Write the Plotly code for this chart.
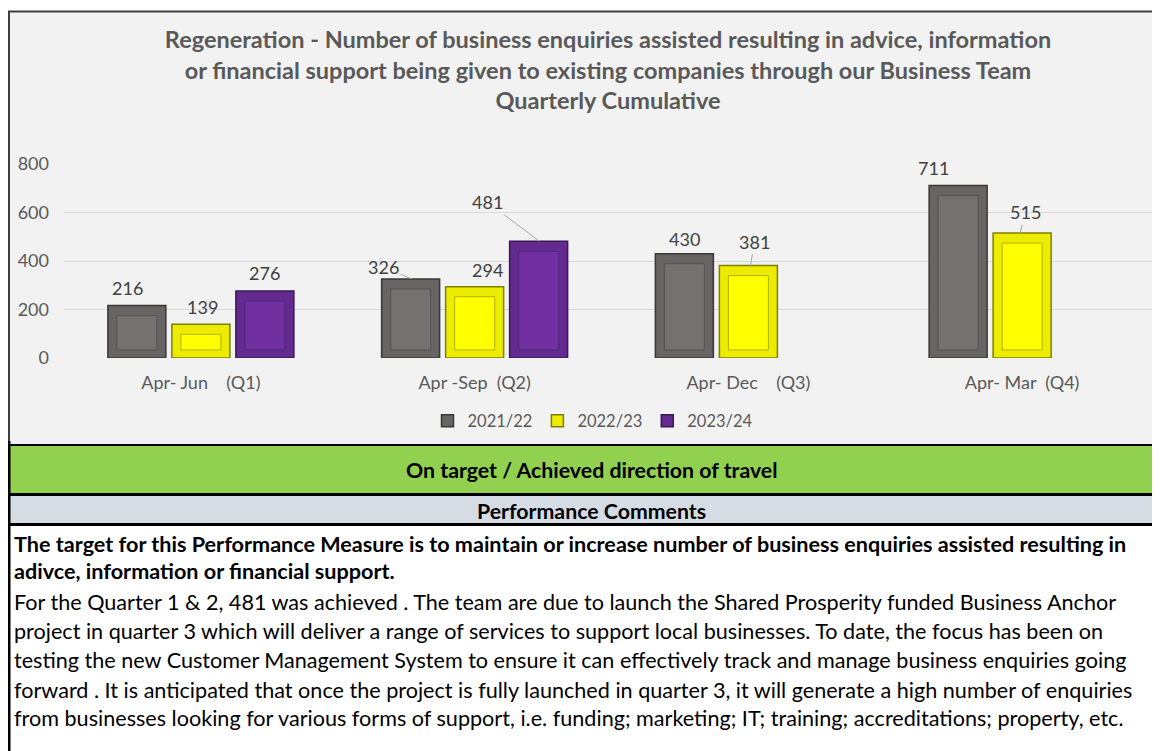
import plotly.graph_objects as go

# ---------------- data ----------------
categories = [
    "Apr-\u00a0Jun\u00a0\u00a0\u00a0\u00a0(Q1)",
    "Apr\u00a0-Sep\u00a0\u00a0(Q2)",
    "Apr-\u00a0Dec\u00a0\u00a0\u00a0\u00a0(Q3)",
    "Apr-\u00a0Mar\u00a0\u00a0(Q4)",
]
series_names = ["2021/22", "2022/23", "2023/24"]
values_2021_22 = [216, 326, 430, 711]
values_2022_23 = [139, 294, 381, 515]
values_2023_24 = [276, 481, None, None]
y_ticks = [0, 200, 400, 600, 800]

title_lines = [
    "Regeneration - Number of business enquiries assisted resulting in advice, information",
    "or financial support being given to existing companies through our Business Team",
    "Quarterly Cumulative",
]
status_text = "On target / Achieved direction of travel"
header_text = "Performance Comments"
body_bold_lines = [
    "The target for this Performance Measure is to maintain or increase number of business enquiries assisted resulting in",
    "adivce, information or financial support.",
]
body_lines = [
    "For the Quarter 1 & 2, 481 was achieved . The team are due to launch the Shared Prosperity funded Business Anchor",
    "project in quarter 3 which will deliver a range of services to support local businesses. To date, the focus has been on",
    "testing the new Customer Management System to ensure it can effectively track and manage business enquiries going",
    "forward . It is anticipated that once the project is fully launched in quarter 3, it will generate a high number of enquiries",
    "from businesses looking for various forms of support, i.e. funding; marketing; IT; training; accreditations; property, etc.",
]

# ---------------- layout / style ----------------
PAGE_W, PAGE_H = 1160, 751
PAGE_MARGIN = 8          # default body margin of the html page
W, H = PAGE_W - PAGE_MARGIN, PAGE_H - PAGE_MARGIN
FONT = "Lato"
PLOT_L, PLOT_R, PLOT_T, PLOT_B = 64, 1159, 164, 358
band_px = (PLOT_R - PLOT_L) / len(categories)
bar_px, gap_px = 58, 6
bar_w = bar_px / band_px
gap_w = gap_px / band_px
group_w = 3 * bar_w + 2 * gap_w
offsets = [-group_w / 2 + i * (bar_w + gap_w) for i in range(3)]
units_per_px = (y_ticks[-1] - y_ticks[0]) / (PLOT_B - PLOT_T)

fills = ["#767171", "#ffff00", "#7030a0"]
bevel_fills = ["#686464", "#ecec00", "#632a8f"]
edge_cols = ["#3a3737", "#7f7f00", "#3a1957"]
inner_edge = ["#555151", "#b0b000", "#50247a"]

all_values = [values_2021_22, values_2022_23, values_2023_24]


def px_x(x):
    return (x - PAGE_MARGIN) / W


def px_y(y):
    return 1 - (y - PAGE_MARGIN) / H


fig = go.Figure()

# outer (bevel) bars
for s, vals in enumerate(all_values):
    fig.add_trace(go.Bar(
        x=categories, y=vals, name=series_names[s],
        offset=offsets[s], width=bar_w,
        marker=dict(color=bevel_fills[s], line=dict(color=edge_cols[s], width=1.5)),
        showlegend=True, hoverinfo="skip",
    ))

# inner face of bars (bevel effect)
inset_x = 9 / band_px
inset_bottom = 8 * units_per_px
inset_top = 10 * units_per_px
for s, vals in enumerate(all_values):
    inner_vals = [None if v is None else v - inset_bottom - inset_top for v in vals]
    fig.add_trace(go.Bar(
        x=categories, y=inner_vals, base=inset_bottom,
        offset=offsets[s] + inset_x, width=bar_w - 2 * inset_x,
        marker=dict(color=fills[s], line=dict(color=inner_edge[s], width=1)),
        showlegend=False, hoverinfo="skip",
    ))

# data labels: (dx, dy) text centre offset from bar top centre in px; optional leader tip
label_pos = {
    (0, 0): (-9, -18, None), (1, 0): (2, -17, None), (2, 0): (0, -18, None),
    (0, 1): (-27, -12, (1, 0)), (1, 1): (13, -17, None), (2, 1): (-51, -39, (1, 0)),
    (0, 2): (0, -15, None), (1, 2): (6, -24, (2, 1)),
    (0, 3): (-25, -18, None), (1, 3): (3, -21, (-2, 0)),
}
annotations = []
for s, vals in enumerate(all_values):
    centre_px = (offsets[s] + bar_w / 2) * band_px
    for c, v in enumerate(vals):
        if v is None:
            continue
        dx, dy, tip = label_pos[(s, c)]
        base = dict(x=categories[c], y=v, xref="x", yref="y", text=str(v),
                    font=dict(family=FONT, size=18, color="#404040"),
                    xanchor="center", yanchor="middle")
        if tip is None:
            base.update(showarrow=False, xshift=centre_px + dx, yshift=-dy)
        else:
            tdx, tdy = tip
            base.update(showarrow=True, xshift=centre_px + tdx, yshift=-tdy,
                        ax=dx - tdx, ay=dy - tdy, axref="pixel", ayref="pixel",
                        arrowhead=0, arrowwidth=1, arrowcolor="#a6a6a6", standoff=0)
        annotations.append(base)

# status band and comments
annotations.append(dict(x=px_x(592), y=px_y(470), xref="paper", yref="paper",
                        text="<b>" + status_text + "</b>", showarrow=False,
                        font=dict(family=FONT, size=21.3, color="#000000"),
                        xanchor="center", yanchor="middle"))
annotations.append(dict(x=px_x(591), y=px_y(511), xref="paper", yref="paper",
                        text="<b>" + header_text + "</b>", showarrow=False,
                        font=dict(family=FONT, size=21.3, color="#000000"),
                        xanchor="center", yanchor="middle"))
body_y = [544, 571, 602, 631, 660, 690, 718]
all_body = ["<b>" + t + "</b>" for t in body_bold_lines] + body_lines
for t, yy in zip(all_body, body_y):
    annotations.append(dict(x=px_x(12), y=px_y(yy), xref="paper", yref="paper",
                            text=t, showarrow=False,
                            font=dict(family=FONT, size=21.6, color="#000000"),
                            xanchor="left", yanchor="middle"))

shapes = [
    # chart background
    dict(type="rect", xref="paper", yref="paper", x0=px_x(8), x1=px_x(1160),
         y0=px_y(444), y1=px_y(11), fillcolor="#f2f2f2", line=dict(width=0), layer="below"),
    dict(type="line", xref="paper", yref="paper", x0=px_x(8), x1=px_x(1160),
         y0=px_y(11.5), y1=px_y(11.5), line=dict(color="#3f3f3f", width=2), layer="below"),
    dict(type="line", xref="paper", yref="paper", x0=px_x(9), x1=px_x(9),
         y0=px_y(444), y1=px_y(11), line=dict(color="#3f3f3f", width=2), layer="below"),
    # green status band
    dict(type="rect", xref="paper", yref="paper", x0=px_x(8), x1=px_x(1160),
         y0=px_y(493), y1=px_y(446), fillcolor="#92d050", line=dict(width=0)),
    # comments header
    dict(type="rect", xref="paper", yref="paper", x0=px_x(8), x1=px_x(1160),
         y0=px_y(523), y1=px_y(496), fillcolor="#d6dce4", line=dict(width=0)),
    dict(type="line", xref="paper", yref="paper", x0=px_x(8), x1=px_x(1160),
         y0=px_y(445), y1=px_y(445), line=dict(color="#000000", width=2)),
    dict(type="line", xref="paper", yref="paper", x0=px_x(8), x1=px_x(1160),
         y0=px_y(494.5), y1=px_y(494.5), line=dict(color="#000000", width=3)),
    dict(type="line", xref="paper", yref="paper", x0=px_x(8), x1=px_x(1160),
         y0=px_y(524.5), y1=px_y(524.5), line=dict(color="#000000", width=3)),
    dict(type="line", xref="paper", yref="paper", x0=px_x(9), x1=px_x(9),
         y0=px_y(751), y1=px_y(441), line=dict(color="#000000", width=3)),
]

fig.update_layout(
    width=W, height=H,
    margin=dict(l=0, r=0, t=0, b=0),
    paper_bgcolor="#ffffff",
    plot_bgcolor="rgba(0,0,0,0)",
    barmode="overlay",
    font=dict(family=FONT, color="#595959"),
    title=dict(
        text="<b>" + "<br>".join(title_lines) + "</b>",
        x=px_x(608), xanchor="center", xref="paper",
        y=px_y(48), yanchor="middle", yref="paper",
        font=dict(family=FONT, size=23.5, color="#595959"),
    ),
    xaxis=dict(domain=[px_x(PLOT_L), px_x(PLOT_R)], showgrid=False, zeroline=False,
               showline=False, ticks="", tickfont=dict(family=FONT, size=18, color="#595959"),
               ticklabelstandoff=12, automargin=False, fixedrange=True),
    yaxis=dict(domain=[px_y(PLOT_B), px_y(PLOT_T)], range=[y_ticks[0], y_ticks[-1]],
               tickvals=y_ticks, showgrid=True, gridcolor="#d9d9d9", gridwidth=1,
               zeroline=False, showline=False, ticks="",
               tickfont=dict(family=FONT, size=18, color="#595959"),
               ticklabelstandoff=14, automargin=False, fixedrange=True),
    legend=dict(orientation="h", x=px_x(593), xanchor="center", y=px_y(421), yanchor="middle",
                bgcolor="rgba(0,0,0,0)", font=dict(family=FONT, size=16.5, color="#595959"),
                itemwidth=30, traceorder="normal"),
    annotations=annotations,
    shapes=shapes,
)

fig.write_html("out.html")
